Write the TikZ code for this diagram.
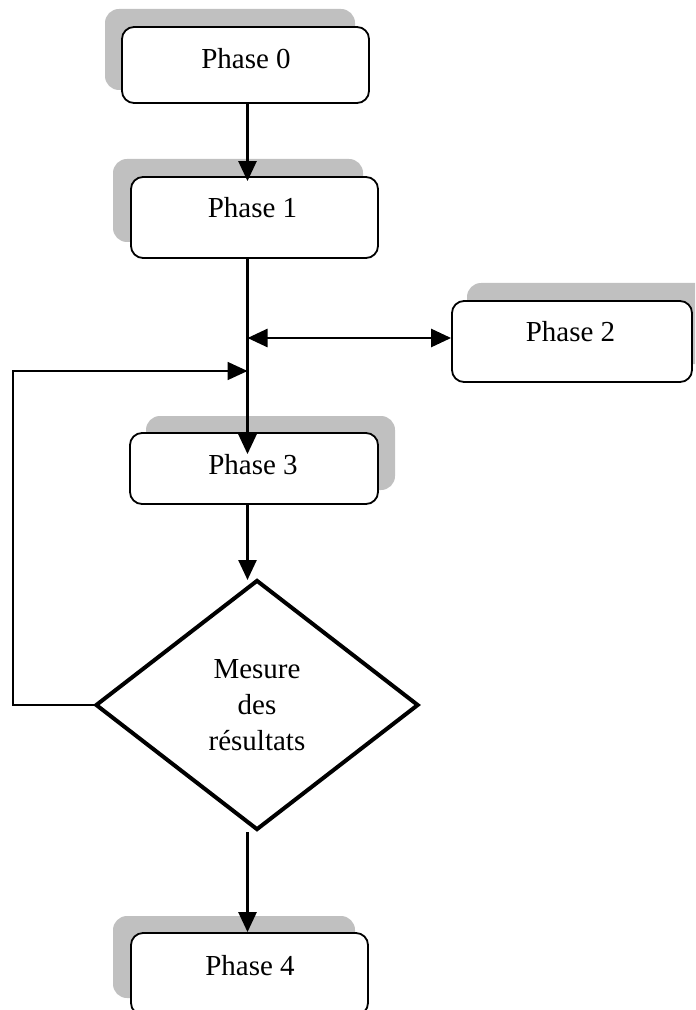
\documentclass[tikz,border=0pt]{standalone}
\usepackage{fontspec}
\setmainfont{Liberation Serif}
\usetikzlibrary{arrows.meta,shapes.geometric}
\definecolor{shadowgray}{RGB}{192,192,192}
\tikzset{
  phasebox/.style={draw, line width=0.9pt, rounded corners=6pt, fill=white,
    inner sep=0pt},
  boxshadow/.style={fill=shadowgray, rounded corners=7pt},
  label/.style={anchor=base, inner sep=0pt, font=\fontsize{14.5}{18}\selectfont},
  decision/.style={draw, diamond, line width=2pt, inner sep=0pt,
    minimum width=161.5pt, minimum height=125pt, align=center,
    font=\fontsize{14.5}{18}\selectfont},
  flow/.style={line width=1.3pt, -{Triangle[length=10pt,width=9pt]}},
  twoway/.style={line width=1.3pt, {Triangle[length=10pt,width=9pt]}-{Triangle[length=10pt,width=9pt]}},
  loopline/.style={line width=0.9pt, -{Triangle[length=10pt,width=9pt]}},
}
\begin{document}
\begin{tikzpicture}[x=0.5pt, y=-0.5pt]
\useasboundingbox (0,0) rectangle (695,1010);
\clip (0,0) rectangle (695,1010);

% drop shadows behind the phase boxes
\fill[boxshadow] (105,9) rectangle (355,90);
\fill[boxshadow] (113,159) rectangle (363,242);
\fill[boxshadow] (467,283) rectangle (712,364);
\fill[boxshadow] (146,416) rectangle (395,490);
\fill[boxshadow] (113,916) rectangle (355,998);

% phase boxes
\node[phasebox, minimum width=123.5pt, minimum height=38pt]   (p0) at (245.5,65) {};
\node[phasebox, minimum width=123.5pt, minimum height=40.5pt] (p1) at (254.5,217.5) {};
\node[phasebox, minimum width=120pt,   minimum height=40.5pt] (p2) at (572,341.5) {};
\node[phasebox, minimum width=124pt,   minimum height=35.5pt] (p3) at (254,468.5) {};
\node[phasebox, minimum width=118.5pt, minimum height=41pt]   (p4) at (249.5,974) {};

\node[label] (t0) at (246,69)    {Phase 0};
\node[label] (t1) at (252.5,218) {Phase 1};
\node[label] (t2) at (570.5,342) {Phase 2};
\node[label] (t3) at (253,474)   {Phase 3};
\node[label] (t4) at (250,975)   {Phase 4};

% decision
\node[decision] (d) at (257,705) {Mesure\\des\\résultats};

% main spine and helper points
\coordinate (s) at (247.5,0);
\coordinate (join) at (247.5,371);
\coordinate (loopc) at (13,371);

\draw[flow] (s |- p0.south) -- ([yshift=-2.5pt]s |- p1.north);
\draw[line width=1.3pt] (s |- p1.south) -- (join);
\draw[flow] (join) -- ([yshift=-11pt]s |- p3.north);
\draw[twoway] ([yshift=1.75pt]s |- p2.west) -- ([yshift=1.75pt]p2.west);
\draw[flow] (s |- p3.south) -- ([yshift=-1pt]s |- d.north);
\draw[flow] (s |- d.south) -- (s |- p4.north);

% feedback loop from the decision back to the spine
\draw[loopline] (d.west) -| (loopc) -- (join);
\end{tikzpicture}
\end{document}
